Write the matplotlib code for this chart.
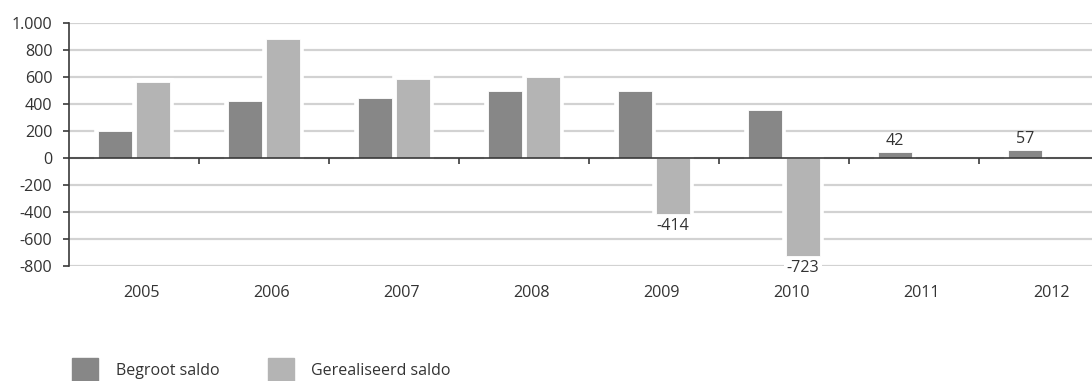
import matplotlib
matplotlib.use('Agg')
import matplotlib.pyplot as plt
from matplotlib.patches import Rectangle
import numpy as np

plt.rcParams['font.family'] = ['Open Sans', 'DejaVu Sans']

years = ['2005', '2006', '2007', '2008', '2009', '2010', '2011', '2012']
begroot = [200, 420, 445, 495, 495, 355, 42, 57]
gerealiseerd = [560, 880, 585, 595, -414, -723, None, None]
labelled = {'begroot': [6, 7], 'gerealiseerd': [4, 5]}

DARK = '#878787'
LIGHT = '#b4b4b4'
GRID = '#d2d2d2'
AXIS = '#3a3a3a'
TEXT = '#333333'
FS = 11.6

W, H = 1092, 381
fig = plt.figure(figsize=(W / 100, H / 100), dpi=100)
# axes runs a bit past the right edge of the figure, like the original layout
ax = fig.add_axes([69 / W, 1 - 266 / H, 1040 / W, (266 - 22.7) / H])

x = np.arange(len(years))
bw = 0.26
off = 0.145

def draw_series(vals, dx, color):
    xs = [xi + dx for xi, v in zip(x, vals) if v is not None]
    vs = [v for v in vals if v is not None]
    # white halo cuts the gridlines around each bar
    ax.bar(xs, vs, width=bw, color='white', edgecolor='white', linewidth=5.5, zorder=2)
    return ax.bar(xs, vs, width=bw, color=color, edgecolor='white', linewidth=0.6, zorder=3)

b1 = draw_series(begroot, -off, DARK)
b2 = draw_series(gerealiseerd, off, LIGHT)

ax.set_xlim(-0.5, 7.5)
ax.set_ylim(-800, 1000)
yt = np.arange(-800, 1001, 200)
ax.set_yticks(yt)
ax.set_yticklabels(['1.000' if v == 1000 else str(v) for v in yt])
for v in yt:
    ax.axhline(v, color=GRID, lw=1.6, zorder=1)

ax.set_xticks(np.arange(0.5, 7.5, 1))
ax.set_xticklabels([])
for sp in ['top', 'right']:
    ax.spines[sp].set_visible(False)
ax.spines['bottom'].set_position(('data', 0))
ax.spines['bottom'].set_zorder(4)
for sp in ['left', 'bottom']:
    ax.spines[sp].set_color(AXIS)
    ax.spines[sp].set_linewidth(1.2)
ax.tick_params(axis='y', direction='out', length=4, width=1.2, color=AXIS,
               labelsize=FS, labelcolor=TEXT, pad=8)
ax.tick_params(axis='x', direction='out', length=4, width=1.2, color=AXIS)

for xi, yr in zip(x, years):
    ax.text(xi + 0.055, -0.109, yr, transform=ax.get_xaxis_transform(),
            ha='center', va='center', fontsize=FS, color=TEXT)

for i in labelled['begroot']:
    ax.annotate(str(begroot[i]), (x[i] - off, begroot[i]), xytext=(0, 2),
                textcoords='offset points', ha='center', va='bottom',
                fontsize=FS, color=TEXT, zorder=5)
for i in labelled['gerealiseerd']:
    ax.annotate(str(gerealiseerd[i]), (x[i] + off, gerealiseerd[i]), xytext=(0, -3),
                textcoords='offset points', ha='center', va='top',
                fontsize=FS, color=TEXT, zorder=5,
                bbox=dict(boxstyle='square,pad=0.15', fc='white', ec='none'))

# legend
for lx, tx, col, lab in [(72, 116, DARK, 'Begroot saldo'),
                          (268, 311, LIGHT, 'Gerealiseerd saldo')]:
    fig.add_artist(Rectangle((lx / W, 0), 26 / W, (H - 358) / H,
                             transform=fig.transFigure, color=col))
    fig.text(tx / W, 1 - 371 / H, lab, ha='left', va='center',
             fontsize=11.5, color=TEXT)

fig.savefig('out.png', dpi=100)
